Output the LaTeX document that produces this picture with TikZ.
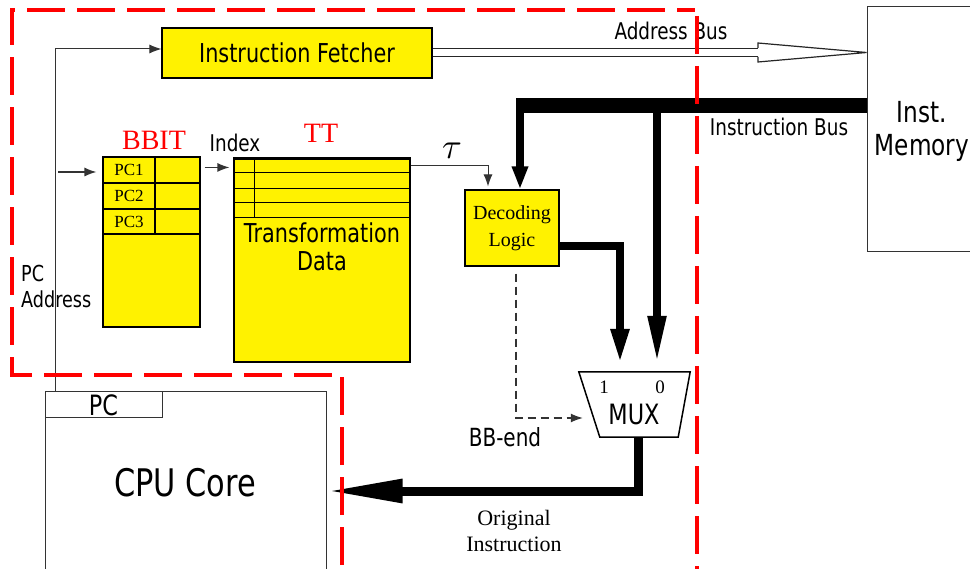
\documentclass[tikz,border=0pt]{standalone}
\usepackage{graphicx}
\usepackage{fontspec}
\newfontfamily\uifont[FakeStretch=0.8]{DejaVu Sans}
\newfontfamily\serifont{Liberation Serif}
\usetikzlibrary{arrows.meta,calc}
\newcommand\fsz[2]{\fontsize{#1}{#2}\selectfont}

\begin{document}
\begin{tikzpicture}[x=1pt,y=-1pt,
  block/.style={draw=black, line width=1.1pt, fill=yellow, inner sep=0pt},
  plainbox/.style={draw=black!80, line width=1pt, fill=white, inner sep=0pt},
  wire/.style={draw=black!80, line width=1pt},
  tip/.style={-{Latex[length=12pt,width=9pt]}},
  busv/.style={draw=black, line width=8pt},
  fence/.style={draw=red, line width=4pt, dash pattern=on 38pt off 12pt},
  txt/.style={inner sep=0pt, font=\uifont\fsz{#1}{#1}},
  stxt/.style={inner sep=0pt, font=\serifont\fsz{#1}{#1}},
  txt/.default=22, stxt/.default=18]

\useasboundingbox (0,0) rectangle (970,569);
\clip (0,0) rectangle (970,569);
\fill[white] (0,0) rectangle (970,569);

% ---------- blocks ----------
\node[block, minimum width=270pt, minimum height=50pt, font=\uifont\fsz{26}{30}]
  (IF) at (297,53) {Instruction Fetcher};

\node[plainbox, minimum width=123pt, minimum height=245pt] (mem) at (928.5,129.5) {};
\node[txt=29] (memA) at (922,112) {Inst.};
\node[txt=29] (memB) at (922,148) {Memory};

% basic block identification table
\node[block, minimum width=97pt, minimum height=170pt] (BBIT) at (151.5,242) {};
\draw[line width=1.1pt] (103,183) -- (200,183) (103,209) -- (200,209) (103,234) -- (200,234)
  (155,157) -- (155,234);
\node[stxt=17] (pc1) at (129,170) {PC1};
\node[stxt=17] (pc2) at (129,196) {PC2};
\node[stxt=17] (pc3) at (129,221.5) {PC3};
\node[inner sep=0pt, text=red, font=\serifont\fsz{28}{28}] (bbitlbl) at (154,140) {BBIT};

% transformation table
\node[block, minimum width=176pt, minimum height=203pt] (TT) at (322,260.5) {};
\draw[line width=1pt] (234,173) -- (410,173) (234,189) -- (410,189) (234,203) -- (410,203)
  (234,218) -- (410,218) (254,159) -- (254,218);
\draw[line width=2.2pt] (TT.north west) -- (TT.north east);
\node[txt=26, align=center] (ttdata) at (322,247) {Transformation\\[2pt]Data};
\node[inner sep=0pt, text=red, font=\serifont\fsz{28}{28}] (ttlbl) at (321,133) {TT};
\node[txt=23] (idxlbl) at (235,143) {Index};

% decoding logic
\node[block, minimum width=94pt, minimum height=76pt, align=center,
  font=\serifont\fsz{20}{27}] (DL) at (512,228) {Decoding\\Logic};

% multiplexer
\node[minimum width=111pt, minimum height=65pt, inner sep=0pt] (mux) at (634.5,404.5) {};
\draw[line width=1.5pt, fill=white] (mux.north west) -- (mux.north east)
  -- ([xshift=-12pt]mux.south east) -- ([xshift=21pt]mux.south west) -- cycle;
\node[stxt=19] (mux1lbl) at (604,387) {1};
\node[stxt=19] (mux0lbl) at (660,387) {0};
\node[txt=28] (muxlbl) at (634,414) {MUX};

% CPU core
\node[plainbox, minimum width=281pt, minimum height=198pt] (cpu) at (185.5,491) {};
\node[plainbox, minimum width=117pt, minimum height=26pt, font=\uifont\fsz{28}{28}]
  (pcreg) at (103.5,405) {PC};
\node[txt=38] (cpulbl) at (185,483) {CPU Core};

% ---------- anchor points ----------
\coordinate (pcup) at (55,392);
\coordinate (pcin) at (58,172);
\coordinate (busL) at (516,105.5);
\coordinate (dlN) at ([xshift=8pt]DL.north);
\coordinate (tauIn) at ([xshift=-24pt,yshift=3pt]DL.north);
\coordinate (muxA) at ([xshift=-14.5pt,yshift=8pt]mux.north);
\coordinate (muxB) at ([xshift=22.5pt,yshift=8pt]mux.north);
\coordinate (muxsel) at ([xshift=4pt,yshift=-13.5pt]mux.west);
\coordinate (muxout) at ([xshift=4pt]mux.south);
\coordinate (headL) at (758,52.5);

% ---------- connectors ----------
% PC to instruction fetcher
\draw[wire, tip] (pcup) |- ([yshift=4pt]IF.west);
% PC address into BBIT
\draw[wire, line width=1.4pt, tip, shorten >=6pt] (pcin) -- (pcin -| BBIT.west);
% index into TT
\draw[wire, line width=1.4pt, tip, shorten <=4pt, shorten >=4pt]
  ([yshift=-11pt]BBIT.north east) -- ([yshift=-9pt]TT.north west);
% tau to decoding logic
\draw[wire, tip] ([yshift=-7pt]TT.north east) -| (tauIn);
\node[inner sep=0pt] (taulbl) at (452,151) {\scalebox{3.6}{$\tau$}};

% address bus
\draw[draw=black!85, line width=1.2pt, double=white, double distance=7.5pt]
  (IF.east |- headL) -- (headL);
\draw[draw=black!85, line width=1.2pt, fill=white, line join=miter]
  ([yshift=4.5pt]headL) -- ([yshift=9.5pt]headL) -- (headL -| mem.west)
  -- ([yshift=-9.5pt]headL) -- ([yshift=-4.5pt]headL);
\node[txt=23] (ablbl) at (671,31) {Address Bus};

% instruction bus
\draw[draw=black, line width=15pt] (busL) -- (busL -| mem.west);
\draw[busv, -{Triangle[length=23pt,width=15pt]}] (busL -| dlN) -- (dlN);
\draw[busv, -{Triangle[length=48pt,width=17pt]}] (busL -| muxB) -- (muxB);
\node[txt=23] (iblbl) at (779,127) {Instruction Bus};

% decoded instruction into the mux
\draw[busv, -{Triangle[length=35pt,width=17pt]}] ([yshift=-18pt]DL.east) -| (muxA);

% basic block end select
\draw[wire, line width=1.2pt, dash pattern=on 8pt off 5pt, tip]
  ([xshift=4pt,yshift=-7pt]DL.south) |- (muxsel);
\node[txt=25] (bblbl) at (505,437) {BB-end};

% mux output back to the core
\draw[draw=black, line width=9pt, -{Triangle[length=76pt,width=22pt]}] (muxout) |- (cpu.east);
\node[stxt=22, align=center] (origlbl) at (514,531) {Original\\[4pt]Instruction};

% PC address label
\node[txt=22, anchor=west, align=left] (pcalbl) at (21,286) {PC\\[4pt]Address};
% redraw the PC wire over its label
\draw[wire] (pcup) -- ++(0,-130);

% ---------- translation unit boundary ----------
\draw[fence] (342,565) -- (342,375) -- (12,375) -- (12,10) -- (695,10);
\draw[fence] (697,16) -- (697,569);
\end{tikzpicture}
\end{document}
